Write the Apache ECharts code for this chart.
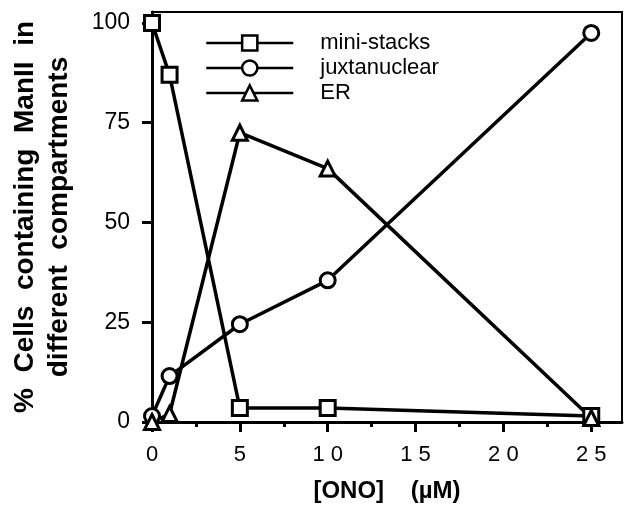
<!DOCTYPE html>
<html>
<head>
<meta charset="utf-8">
<script src="https://cdn.jsdelivr.net/npm/echarts@6/dist/echarts.min.js"></script>
<style>
html,body{margin:0;padding:0;background:#fff;}
#c{width:624px;height:509px;}
</style>
</head>
<body>
<div id="c"></div>
<script>
// ---- data ----
const concentrations = [0, 1, 5, 10, 25];
const miniStacks = [100, 87, 3.5, 3.5, 1.5];
const juxtanuclear = [1.5, 11.5, 24.5, 35.5, 97.5];
const erValues = [0, 2, 72.5, 63.5, 1];
const seriesNames = ['mini-stacks', 'juxtanuclear', 'ER'];
const xTickValues = [0, 5, 10, 15, 20, 25];
const xMinorTickValues = [2.5, 7.5, 12.5, 17.5, 22.5];
const yTickValues = [0, 25, 50, 75, 100];
const xTitle = '[ONO]    (µM)';
const yTitle = '%  Cells  containing  ManII  in\ndifferent  compartments';

const FONT = "'Liberation Sans', Arial, Helvetica, sans-serif";
const pairs = v => concentrations.map((x, i) => [x, v[i]]);

const baseSeries = (name, values, symbol) => ({
  name: name,
  type: 'line',
  data: pairs(values),
  symbol: symbol,
  symbolSize: 15,
  lineStyle: { color: '#000', width: 3.5 },
  itemStyle: { color: '#fff', borderColor: '#000', borderWidth: 3 },
  emphasis: { disabled: true },
  z: 3
});

const chart = echarts.init(document.getElementById('c'), null, { renderer: 'canvas' });
chart.setOption({
  animation: false,
  backgroundColor: '#fff',
  grid: { left: 147, right: 2, top: 12, bottom: 87, show: true, borderColor: '#000', borderWidth: 2, backgroundColor: 'transparent' },
  legend: {
    orient: 'vertical',
    left: 200,
    top: 27,
    itemWidth: 87,
    itemHeight: 19,
    itemGap: 3,
    data: seriesNames,
    itemStyle: { borderWidth: 2.5, borderColor: '#000', color: '#fff' },
    lineStyle: { width: 2.5, color: '#000' },
    textStyle: { fontFamily: FONT, fontSize: 22, color: '#000', lineHeight: 19, padding: [0, 0, 0, 22] },
    selectedMode: false
  },
  xAxis: [{
    type: 'value',
    min: 0,
    max: 26.75,
    name: xTitle,
    nameLocation: 'middle',
    nameGap: 57,
    nameTextStyle: { fontFamily: FONT, fontSize: 24, fontWeight: 'bold', color: '#000' },
    axisLine: { show: true, lineStyle: { color: '#000', width: 3 } },
    axisTick: { show: true, inside: false, length: 10, lineStyle: { color: '#000', width: 3 }, customValues: xTickValues },
    axisLabel: {
      show: true, margin: 22, fontFamily: FONT, fontSize: 22, color: '#000',
      customValues: xTickValues,
      formatter: v => String(v).split('').join(' ')
    },
    splitLine: { show: false }
  }, {
    type: 'value',
    min: 0,
    max: 26.75,
    position: 'bottom',
    axisLine: { show: false },
    axisTick: { show: true, inside: false, length: 5, lineStyle: { color: '#000', width: 3 }, customValues: xMinorTickValues },
    axisLabel: { show: false },
    splitLine: { show: false }
  }],
  yAxis: {
    type: 'value',
    min: 0,
    max: 102.75,
    name: yTitle,
    nameLocation: 'middle',
    nameRotate: 90,
    nameGap: 76,
    nameTextStyle: { fontFamily: FONT, fontSize: 28, fontWeight: 'bold', color: '#000', lineHeight: 34 },
    axisLine: { show: true, lineStyle: { color: '#000', width: 3 } },
    axisTick: { show: true, inside: false, length: 10, lineStyle: { color: '#000', width: 3 }, customValues: yTickValues },
    axisLabel: { show: true, margin: 22, fontFamily: FONT, fontSize: 23, color: '#000', customValues: yTickValues },
    splitLine: { show: false }
  },
  series: [
    baseSeries(seriesNames[0], miniStacks, 'rect'),
    baseSeries(seriesNames[1], juxtanuclear, 'circle'),
    baseSeries(seriesNames[2], erValues, 'triangle')
  ]
});
</script>
</body>
</html>
